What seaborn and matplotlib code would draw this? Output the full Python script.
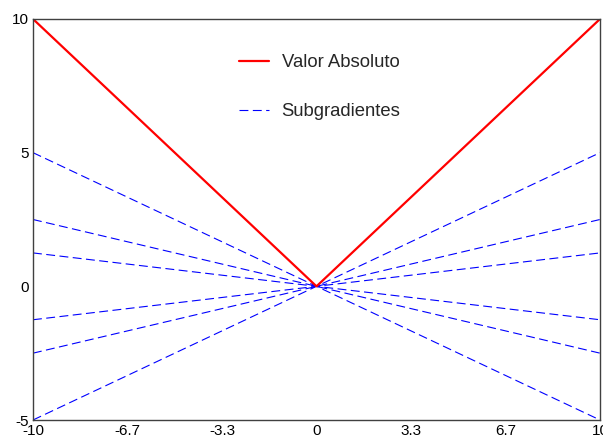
import matplotlib
matplotlib.use("Agg")
import matplotlib.pyplot as plt
import seaborn as sns
import pandas as pd

# Data
abs_x = [-10, 0, 10]
abs_y = [10, 0, 10]
sub_x = [-10, 0, 10]
sub_left = [5, 2.5, 1.25, -1.25, -2.5, -5]
sub_right = [-5, -2.5, -1.25, 1.25, 2.5, 5]
xticks = [-10, -20/3, -10/3, 0, 10/3, 20/3, 10]
xticklabels = ["-10", "-6.7", "-3.3", "0", "3.3", "6.7", "10"]
yticks = [-5, 0, 5, 10]
yticklabels = ["-5", "0", "5", "10"]

sns.set_style("white")
plt.rcParams['font.family'] = ['Liberation Sans', 'DejaVu Sans']

fig = plt.figure(figsize=(6.03, 4.37), dpi=100)
ax = fig.add_axes([33/603, 17/437, 567/603, 401/437])

for i, (l, r) in enumerate(zip(sub_left, sub_right)):
    df = pd.DataFrame({"x": sub_x, "y": [l, 0, r]})
    sns.lineplot(data=df, x="x", y="y", ax=ax, color="#0000ff", lw=0.8,
                 linestyle=(0, (8, 4)), sort=False,
                 label="Subgradientes" if i == 0 else None)

df_abs = pd.DataFrame({"x": abs_x, "y": abs_y})
sns.lineplot(data=df_abs, x="x", y="y", ax=ax, color="#ff0000", lw=1.6,
             sort=False, label="Valor Absoluto")

ax.set_xlim(-10, 10)
ax.set_ylim(-5, 10)
ax.set_xticks(xticks)
ax.set_xticklabels(xticklabels)
ax.set_yticks(yticks)
ax.set_yticklabels(yticklabels)
ax.set_xlabel("")
ax.set_ylabel("")
ax.tick_params(direction="in", length=5, width=1, colors="#404040",
               labelcolor="black", labelsize=11, pad=3)
for s in ax.spines.values():
    s.set_color("#404040")
    s.set_linewidth(1)

h, lab = ax.get_legend_handles_labels()
order = [lab.index("Valor Absoluto"), lab.index("Subgradientes")]
ax.legend([h[i] for i in order], [lab[i] for i in order], loc="center",
          bbox_to_anchor=(0.506, 0.83), frameon=False, fontsize=13.3,
          labelspacing=1.75, handlelength=1.6, handletextpad=0.7)

fig.savefig("out.png", dpi=100)
